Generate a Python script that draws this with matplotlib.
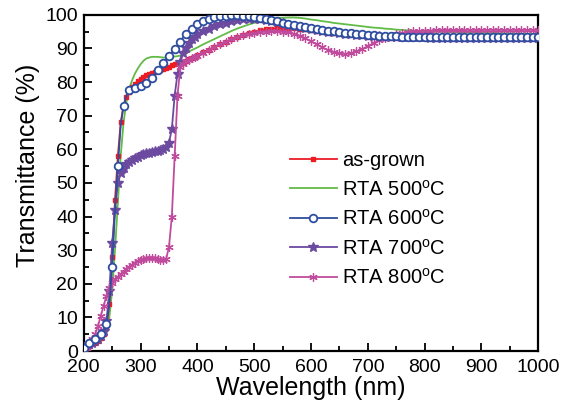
import numpy as np
import matplotlib
matplotlib.use("Agg")
import matplotlib.pyplot as plt
from matplotlib.ticker import MultipleLocator

plt.rcParams['font.family'] = ['Liberation Sans', 'DejaVu Sans']

# wavelength grid (nm): 5 nm steps up to 400, 10 nm steps after
wl = list(range(200, 401, 5)) + list(range(410, 1001, 10))

as_grown = [0.5, 1, 1.5, 2, 2.5, 3, 4, 5, 7, 14, 28, 45, 58, 68, 73, 75.5, 77, 78.5, 79.5, 80.3,
            81, 81.5, 82, 82.3, 82.7, 83, 83.3, 83.6, 84, 84.3, 84.6, 85, 85.3, 85.6, 85.8, 86.1,
            86.4, 86.8, 87.2, 87.6, 88,
            88.8, 89.6, 90.5, 91.3, 92, 92.7, 93.4, 94, 94.5, 95, 95.4, 95.7, 95.9, 96, 96.1, 96.1,
            96, 95.9, 95.7, 95.5, 95.3, 95.1, 94.9, 94.7, 94.5, 94.4, 94.3, 94.2, 94.1, 94,
            94, 93.9, 93.9, 93.9, 93.8, 93.8, 93.8, 93.8, 93.7, 93.7, 93.7, 93.7, 93.7, 93.7, 93.6,
            93.6, 93.6, 93.6, 93.6, 93.6, 93.6, 93.6, 93.6, 93.6, 93.6, 93.6, 93.6, 93.6, 93.6, 93.6]

rta500 = [0, 0.5, 1, 1.5, 2, 2.5, 3, 4, 6, 10, 18, 30, 44, 58, 68, 74, 78, 80.5, 82.5, 84,
          85.3, 86.3, 87, 87.3, 87.5, 87.5, 87.5, 87.4, 87.3, 87.3, 87.4, 87.5, 87.6, 87.7, 87.9, 88.2,
          88.5, 89, 89.5, 89.9, 90.3,
          91.2, 92, 92.8, 93.6, 94.4, 95.2, 95.9, 96.5, 97.1, 97.6, 98, 98.4, 98.7, 99, 99.1, 99.2,
          99.2, 99.1, 98.9, 98.6, 98.4, 98.1, 97.9, 97.6, 97.4, 97.2, 97, 96.8, 96.6, 96.4,
          96.2, 96.1, 95.9, 95.8, 95.6, 95.5, 95.4, 95.3, 95.2, 95.1, 95, 95, 94.9, 94.9, 94.8,
          94.8, 94.7, 94.7, 94.7, 94.6, 94.6, 94.6, 94.5, 94.5, 94.5, 94.4, 94.4, 94.4, 94.3, 94.3]

rta600 = [0.8, 1.5, 2.5, 3, 3.5, 4, 5, 6, 8, 14, 25, 42, 55, 67, 73, 76, 77.5, 78, 78.3, 78.5,
          78.8, 79.2, 79.7, 80.4, 81.3, 82.3, 83.5, 84.6, 85.6, 86.8, 87.8, 88.8, 89.8, 90.8, 92, 93.3,
          94.3, 95.1, 95.8, 96.6, 97.3,
          98.2, 98.8, 99.3, 99.6, 99.8, 99.9, 99.9, 99.8, 99.7, 99.5, 99.2, 98.9, 98.5, 98.1, 97.7,
          97.3, 97, 96.7, 96.4, 96.1, 95.8, 95.5, 95.3, 95.1, 94.9, 94.7, 94.5, 94.3, 94.2, 94,
          93.9, 93.8, 93.7, 93.6, 93.6, 93.5, 93.5, 93.5, 93.5, 93.4, 93.4, 93.4, 93.4, 93.4, 93.4,
          93.4, 93.4, 93.4, 93.4, 93.4, 93.4, 93.4, 93.4, 93.4, 93.4, 93.4, 93.4, 93.4, 93.4, 93.4]

rta700 = [1, 1.5, 2, 2.5, 3, 3.5, 4.5, 6, 9, 18, 32, 42, 50, 53, 54.5, 55.5, 56.3, 56.9, 57.4, 57.8,
          58.2, 58.5, 58.8, 59, 59.2, 59.4, 59.6, 59.8, 60.2, 60.8, 62, 66, 76, 82.5, 86, 88.5,
          90, 91.5, 92.7, 93.5, 94.2,
          95.1, 95.9, 96.6, 97.2, 97.7, 98.1, 98.5, 98.7, 98.8, 98.8, 98.7, 98.5, 98.2, 97.9, 97.5,
          97.1, 96.8, 96.4, 96.1, 95.8, 95.5, 95.2, 95, 94.8, 94.6, 94.4, 94.2, 94.1, 93.9, 93.8,
          93.7, 93.6, 93.5, 93.5, 93.4, 93.4, 93.3, 93.3, 93.3, 93.3, 93.2, 93.2, 93.2, 93.2, 93.2,
          93.2, 93.2, 93.2, 93.2, 93.2, 93.2, 93.2, 93.2, 93.2, 93.2, 93.2, 93.2, 93.2, 93.2, 93.2]

rta800 = [0.3, 1, 2, 3.5, 5, 7.5, 10.5, 13.5, 16.5, 18.8, 20.3, 21.3, 22, 22.8, 23.6, 24.3, 25, 25.7,
          26.3, 26.8, 27.2, 27.5, 27.7, 27.8, 27.8, 27.6, 27.4, 27.2, 27.1, 27.4, 31, 40, 58, 76, 84.5,
          85.5, 86.2, 86.7, 87.1, 87.5, 87.9,
          88.7, 89.5, 90.4, 91.2, 92, 92.8, 93.4, 93.9, 94.3, 94.6, 94.8, 95, 95.1, 95.1, 95, 94.8,
          94.4, 93.8, 93, 92.1, 91.2, 90.3, 89.5, 88.9, 88.5, 88.4, 88.6, 89.1, 89.8, 90.7,
          91.6, 92.4, 93.1, 93.7, 94.2, 94.6, 94.9, 95.1, 95.2, 95.3, 95.3, 95.4, 95.4, 95.4, 95.4,
          95.4, 95.5, 95.5, 95.5, 95.5, 95.5, 95.5, 95.5, 95.5, 95.5, 95.5, 95.5, 95.5, 95.5, 95.5]

labels = ['as-grown', 'RTA 500$^\\mathregular{o}$C', 'RTA 600$^\\mathregular{o}$C',
          'RTA 700$^\\mathregular{o}$C', 'RTA 800$^\\mathregular{o}$C']

every10 = [i for i, w in enumerate(wl) if w % 10 == 0]

fig = plt.figure(figsize=(5.66, 4.12), dpi=100)
ax = fig.add_axes([0.148, 0.148, 0.803, 0.816])

ax.plot(wl, as_grown, color='#ED1C24', lw=1.3, marker='s', ms=3, mec='#ED1C24', label=labels[0], zorder=3)
ax.plot(wl, rta500, color='#62BB46', lw=1.3, label=labels[1], zorder=2)
ax.plot(wl, rta600, color='#2E4DA0', lw=1.3, marker='o', ms=5.5, mfc='white', mec='#2E4DA0', mew=1.3,
        markevery=every10, label=labels[2], zorder=4)
ax.plot(wl, rta700, color='#6B4AA0', lw=1.3, marker='*', ms=7, mec='#6B4AA0', label=labels[3], zorder=3)
ax.plot(wl, rta800, color='#C04B9D', lw=1.3, marker=(6, 2, 0), ms=6, mec='#C04B9D', mew=0.9,
        label=labels[4], zorder=3)

ax.set_xlim(200, 1000)
ax.set_ylim(0, 100)
ax.xaxis.set_major_locator(MultipleLocator(100))
ax.xaxis.set_minor_locator(MultipleLocator(50))
ax.yaxis.set_major_locator(MultipleLocator(10))
ax.yaxis.set_minor_locator(MultipleLocator(5))
ax.tick_params(which='both', direction='in', top=False, right=False, width=1.3, labelsize=14)
ax.tick_params(axis='x', pad=6)
ax.tick_params(axis='y', pad=4)
ax.tick_params(which='major', length=6)
ax.tick_params(which='minor', length=3.5)
for s in ax.spines.values():
    s.set_linewidth(1.6)

ax.set_xlabel('Wavelength (nm)', fontsize=18, labelpad=0)
ax.set_ylabel('Transmittance (%)', fontsize=18)
ax.yaxis.set_label_coords(-0.097, 0.553)

leg = ax.legend(loc='upper left', bbox_to_anchor=(0.436, 0.619), frameon=False, fontsize=14.5,
                handlelength=2.33, handletextpad=0.25, labelspacing=0.47, borderaxespad=0)

fig.savefig('out.png', dpi=100)
